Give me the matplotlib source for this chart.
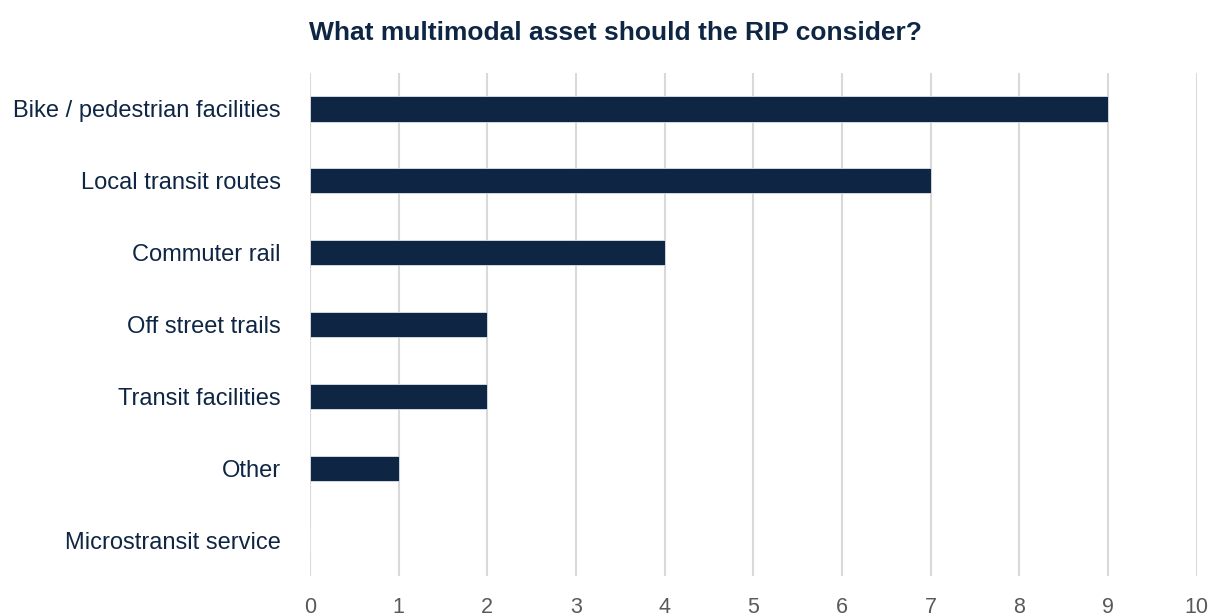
import matplotlib.pyplot as plt

categories = [
    "Bike / pedestrian facilities",
    "Local transit routes",
    "Commuter rail",
    "Off street trails",
    "Transit facilities",
    "Other",
    "Microstransit service",
]
counts = [9, 7, 4, 2, 2, 1, 0]
x_ticks = list(range(0, 11))

navy = "#0E2644"
plt.rcParams["font.family"] = ["Liberation Sans", "DejaVu Sans"]

fig = plt.figure(figsize=(12.1, 6.16), dpi=100)
ax = fig.add_axes([0.2562, 0.0649, 0.7328, 0.8166])

ypos = list(range(len(categories)))
ax.barh(ypos, counts, height=0.35, color=navy, edgecolor="#DDE3EA", linewidth=0.6, zorder=3)

ax.set_ylim(len(categories) - 0.5, -0.5)
ax.set_xlim(0, 10)
ax.set_xticks(x_ticks)
ax.set_xticklabels([str(t) for t in x_ticks], color="#595959", fontsize=15.5)
ax.set_yticks(ypos)
ax.set_yticklabels(categories, color=navy, fontsize=17)
ax.tick_params(axis="x", length=0, pad=15)
ax.tick_params(axis="y", length=0, pad=21)

ax.grid(axis="x", color="#D9D9D9", linewidth=1.5, zorder=0)
ax.grid(axis="y", visible=False)
for s in ax.spines.values():
    s.set_visible(False)

fig.text(0.5085, 0.946, "What multimodal asset should the RIP consider?",
         ha="center", va="center", fontsize=19, fontweight="bold", color=navy)

fig.savefig("out.png", dpi=100)
